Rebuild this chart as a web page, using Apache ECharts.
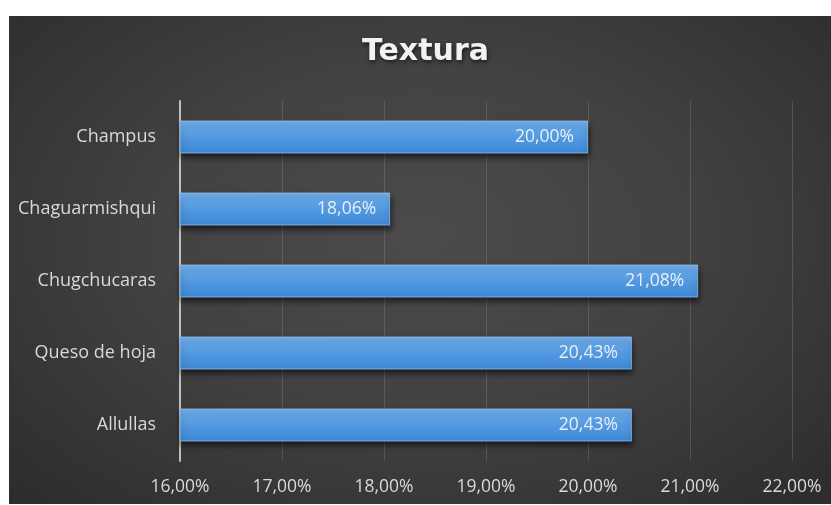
<!DOCTYPE html>
<html>
<head>
<meta charset="utf-8">
<script src="https://cdn.jsdelivr.net/npm/echarts@6/dist/echarts.min.js"></script>
<style>
html,body{margin:0;padding:0;background:#ffffff;}
#wrap{position:absolute;left:9px;top:16px;width:822px;height:488px;
background:radial-gradient(ellipse at 50% 45%, #4b4b4b 0%, #424242 45%, #2c2c2c 100%);}
#chart{position:absolute;left:0;top:0;width:831px;height:505px;}
</style>
</head>
<body>
<div id="wrap"></div>
<div id="chart"></div>
<script>
const title = 'Textura';
const categories = ['Allullas', 'Queso de hoja', 'Chugchucaras', 'Chaguarmishqui', 'Champus'];
const values = [20.43, 20.43, 21.08, 18.06, 20.00];
const axisMin = 16, axisMax = 22, axisStep = 1;

const fmt = v => v.toFixed(2).replace('.', ',') + '%';
const font = '"Open Sans", "Noto Sans", sans-serif';

const chart = echarts.init(document.getElementById('chart'), null, {renderer: 'canvas'});
chart.setOption({
  backgroundColor: 'transparent',
  animation: false,
  title: {
    text: title, left: 357, top: 32,
    textStyle: {color: '#f2f2f2', fontFamily: '"DejaVu Sans", sans-serif', fontWeight: 'bold', fontSize: 30,
      textShadowColor: 'rgba(0,0,0,0.6)', textShadowBlur: 4, textShadowOffsetX: 1, textShadowOffsetY: 2}
  },
  grid: {left: 180, right: 39, top: 101, bottom: 44, containLabel: false},
  xAxis: {
    type: 'value', min: axisMin, max: axisMax, interval: axisStep,
    axisLine: {show: false}, axisTick: {show: false},
    splitLine: {show: true, lineStyle: {color: 'rgba(150,150,150,0.3)', width: 1}},
    axisLabel: {color: '#d9d9d9', fontFamily: font, fontSize: 17.5, margin: 17, formatter: fmt}
  },
  yAxis: {
    type: 'category', data: categories,
    axisLine: {show: true, lineStyle: {color: '#bfbfbf', width: 2}},
    axisTick: {show: false},
    axisLabel: {color: '#d9d9d9', fontFamily: font, fontSize: 18, margin: 24}
  },
  series: [{
    type: 'bar', data: values, barWidth: 33,
    itemStyle: {
      color: new echarts.graphic.LinearGradient(0, 0, 0, 1, [
        {offset: 0, color: '#73b1ee'}, {offset: 0.5, color: '#5399e0'}, {offset: 1, color: '#3f88d6'}
      ]),
      borderColor: 'rgba(140,190,240,0.8)', borderWidth: 1,
      shadowColor: 'rgba(0,0,0,0.6)', shadowBlur: 6, shadowOffsetY: 4, shadowOffsetX: 1
    },
    label: {show: true, position: 'insideRight', distance: 14, color: '#e6eef8',
      fontFamily: font, fontSize: 17.5, formatter: p => fmt(p.value)}
  }]
});
</script>
</body>
</html>
